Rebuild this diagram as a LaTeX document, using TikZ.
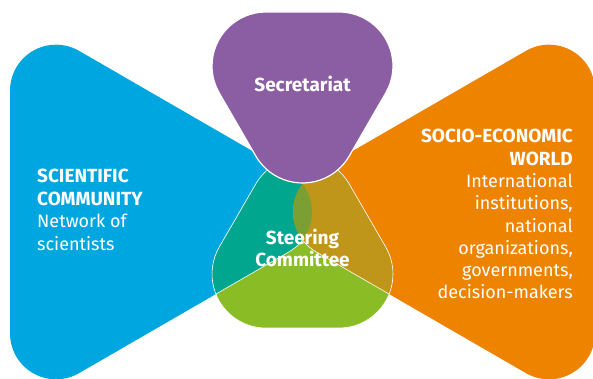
\documentclass[tikz,border=0pt]{standalone}
\usepackage{fontspec}
\setmainfont{Fira Sans}
\definecolor{cblue}{RGB}{0,166,224}
\definecolor{corange}{RGB}{238,131,0}
\definecolor{cpurple}{RGB}{139,94,164}
\definecolor{cteal}{RGB}{0,167,142}
\definecolor{colive}{RGB}{191,150,26}
\definecolor{cgreen}{RGB}{138,188,37}
\definecolor{clens}{RGB}{122,160,52}
\newcommand\bluepath{([shift={(180:46)}]bA) arc[start angle=180,end angle=60,radius=46] -- ([shift={(60:46)}]bC) arc[start angle=60,end angle=-60,radius=46] -- ([shift={(-60:46)}]bB) arc[start angle=-60,end angle=-180,radius=46] -- cycle}
\newcommand\orangepath{([shift={(0:46)}]oA) arc[start angle=0,end angle=120,radius=46] -- ([shift={(120:46)}]oC) arc[start angle=120,end angle=240,radius=46] -- ([shift={(240:46)}]oB) arc[start angle=240,end angle=360,radius=46] -- cycle}
\newcommand\purplepath{([shift={(90:54)}]pA) arc[start angle=90,end angle=210,radius=54] -- ([shift={(210:54)}]pC) arc[start angle=210,end angle=330,radius=54] -- ([shift={(330:54)}]pB) arc[start angle=330,end angle=450,radius=54] -- cycle}
\newcommand\steerpath{([shift={(150:54)}]sA) arc[start angle=150,end angle=270,radius=54] -- ([shift={(270:54)}]sB) arc[start angle=270,end angle=390,radius=54] -- ([shift={(30:54)}]sC) arc[start angle=30,end angle=150,radius=54] -- cycle}
\begin{document}
\begin{tikzpicture}[x=1pt,y=1pt,
  lbl/.style={text=white, font=\fontsize{18}{22}\selectfont, inner sep=0pt},
  hd/.style={text=white, font=\fontsize{19}{22}\selectfont\bfseries, inner sep=0pt},
  wline/.style={draw=white, line width=0.6pt}]
\useasboundingbox (0,0) rectangle (593,379);
\coordinate (bA) at (56,288.33);
\coordinate (bC) at (266,167);
\coordinate (bB) at (56,45.67);
\coordinate (oA) at (549,288.33);
\coordinate (oC) at (339,167);
\coordinate (oB) at (549,45.67);
\coordinate (pA) at (266.03,313);
\coordinate (pB) at (338.97,313);
\coordinate (pC) at (302.5,250);
\coordinate (sA) at (266.03,105);
\coordinate (sB) at (338.97,105);
\coordinate (sC) at (302.5,168);
\begin{scope}
  \clip (0,0) rectangle (593,379);
  \fill[cblue] \bluepath;
  \fill[corange] \orangepath;
  \begin{scope}
    \clip \steerpath;
    \fill[cgreen] (0,0) rectangle (593,379);
    \fill[cteal] \bluepath;
    \fill[colive] \orangepath;
    \begin{scope}
      \clip \bluepath;
      \fill[clens] \orangepath;
    \end{scope}
    \draw[wline] ([shift={(-60:46)}]bB) -- ([shift={(-60:46)}]bC) arc[start angle=-60,end angle=-37.5,radius=46];
    \draw[wline] ([shift={(240:46)}]oB) -- ([shift={(240:46)}]oC) arc[start angle=240,end angle=217.5,radius=46];
  \end{scope}
  \draw[wline] \steerpath;
  \fill[cpurple, draw=white, line width=1.2pt] \purplepath;
\end{scope}
\node[hd, anchor=base] (sec) at (302.5,287) {Secretariat};
\node[hd, anchor=base] (st1) at (302.5,134) {Steering};
\node[hd, anchor=base] (st2) at (302.5,112) {Committee};
\node[hd, anchor=base west] (sc1) at (37,196) {SCIENTIFIC};
\node[hd, anchor=base west] (sc2) at (37,173) {COMMUNITY};
\node[lbl, anchor=base west] (sc3) at (37,151) {Network of};
\node[lbl, anchor=base west] (sc4) at (37,128) {scientists};
\node[hd, anchor=base east] (se1) at (573,236) {SOCIO-ECONOMIC};
\node[hd, anchor=base east] (se2) at (573,213) {WORLD};
\node[lbl, anchor=base east] (se3) at (573,191) {International};
\node[lbl, anchor=base east] (se4) at (573,169) {institutions,};
\node[lbl, anchor=base east] (se5) at (573,146) {national};
\node[lbl, anchor=base east] (se6) at (573,124) {organizations,};
\node[lbl, anchor=base east] (se7) at (573,102) {governments,};
\node[lbl, anchor=base east] (se8) at (573,80) {decision-makers};
\end{tikzpicture}
\end{document}
